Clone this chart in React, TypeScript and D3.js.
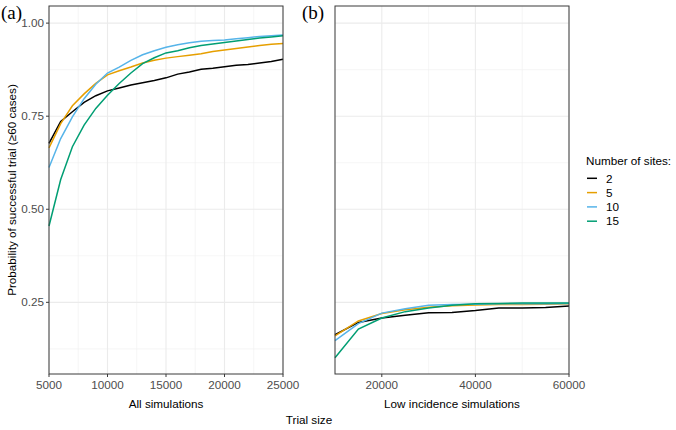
import React from "react";
import * as d3 from "d3";

const W = 676;
const H = 430;

const sites = ["2", "5", "10", "15"];
const colors = ["#000000", "#E69F00", "#56B4E9", "#009E73"];

const sizesA = [5000, 6000, 7000, 8000, 9000, 10000, 11000, 12000, 13000, 14000, 15000, 16000, 17000, 18000, 19000, 20000, 21000, 22000, 23000, 24000, 25000];
const a2 = [0.677, 0.736, 0.762, 0.787, 0.805, 0.818, 0.826, 0.834, 0.840, 0.846, 0.853, 0.863, 0.869, 0.876, 0.879, 0.883, 0.887, 0.889, 0.893, 0.897, 0.903];
const a5 = [0.665, 0.73, 0.778, 0.81, 0.838, 0.861, 0.872, 0.882, 0.893, 0.900, 0.906, 0.910, 0.914, 0.918, 0.924, 0.928, 0.932, 0.936, 0.940, 0.943, 0.945];
const a10 = [0.612, 0.69, 0.748, 0.797, 0.836, 0.866, 0.882, 0.900, 0.915, 0.926, 0.935, 0.942, 0.947, 0.951, 0.953, 0.955, 0.958, 0.961, 0.964, 0.966, 0.968];
const a15 = [0.455, 0.58, 0.668, 0.726, 0.771, 0.806, 0.838, 0.866, 0.891, 0.907, 0.920, 0.926, 0.934, 0.940, 0.944, 0.948, 0.952, 0.956, 0.960, 0.963, 0.966];

const sizesB = [10000, 15000, 20000, 25000, 30000, 35000, 40000, 45000, 50000, 55000, 60000];
const b2 = [0.163, 0.196, 0.208, 0.215, 0.222, 0.223, 0.228, 0.235, 0.235, 0.236, 0.240];
const b5 = [0.160, 0.200, 0.220, 0.230, 0.237, 0.241, 0.243, 0.244, 0.244, 0.245, 0.246];
const b10 = [0.147, 0.193, 0.221, 0.233, 0.242, 0.244, 0.245, 0.246, 0.246, 0.246, 0.247];
const b15 = [0.101, 0.178, 0.208, 0.225, 0.235, 0.242, 0.246, 0.247, 0.248, 0.248, 0.248];

const yMajor = [0.25, 0.5, 0.75, 1.0];
const yMinor = [0.125, 0.375, 0.625, 0.875];
const xMajorA = [5000, 10000, 15000, 20000, 25000];
const xMinorA = [7500, 12500, 17500, 22500];
const xMajorB = [20000, 40000, 60000];
const xMinorB = [10000, 30000, 50000];

const FONT = "'Liberation Sans', Arial, sans-serif";

const top = 6;
const bottom = 374;
const y = d3.scaleLinear().domain([0.0575, 1.046]).range([bottom, top]);

function Panel({ left, right, xDomain, xs, series, major, minor, showY, title, tag, fmt }: any) {
  const x = d3.scaleLinear().domain(xDomain).range([left, right]);
  const line = (vals: number[]) =>
    d3.line<number>().x((_, i) => x(xs[i])).y((d) => y(d))(vals) as string;
  return (
    <g>
      {minor.map((v: number) => (
        <line key={"xm" + v} x1={x(v)} x2={x(v)} y1={top} y2={bottom} stroke="#F0F0F0" strokeWidth={0.6} />
      ))}
      {yMinor.map((v) => (
        <line key={"ym" + v} x1={left} x2={right} y1={y(v)} y2={y(v)} stroke="#F0F0F0" strokeWidth={0.6} />
      ))}
      {major.map((v: number) => (
        <line key={"xM" + v} x1={x(v)} x2={x(v)} y1={top} y2={bottom} stroke="#EBEBEB" strokeWidth={1.1} />
      ))}
      {yMajor.map((v) => (
        <line key={"yM" + v} x1={left} x2={right} y1={y(v)} y2={y(v)} stroke="#EBEBEB" strokeWidth={1.1} />
      ))}
      {series.map((vals: number[], i: number) => (
        <path key={i} d={line(vals)} fill="none" stroke={colors[i]} strokeWidth={1.5} />
      ))}
      <rect x={left} y={top} width={right - left} height={bottom - top} fill="none" stroke="#3A3A3A" strokeWidth={1} />
      {major.map((v: number) => (
        <g key={"xt" + v}>
          <line x1={x(v)} x2={x(v)} y1={bottom} y2={bottom + 3} stroke="#3A3A3A" strokeWidth={1} />
          <text x={x(v)} y={bottom + 15} textAnchor="middle" fontSize={11.7} fill="#4D4D4D" fontFamily={FONT}>
            {fmt(v)}
          </text>
        </g>
      ))}
      {showY &&
        yMajor.map((v) => (
          <g key={"yt" + v}>
            <line x1={left - 3} x2={left} y1={y(v)} y2={y(v)} stroke="#3A3A3A" strokeWidth={1} />
            <text x={left - 5} y={y(v) + 4} textAnchor="end" fontSize={11.7} fill="#4D4D4D" fontFamily={FONT}>
              {d3.format(".2f")(v)}
            </text>
          </g>
        ))}
      <text x={(left + right) / 2} y={408} textAnchor="middle" fontSize={11.7} fill="#000" fontFamily={FONT}>
        {title}
      </text>
      <text x={tag.x} y={18.5} fontSize={19} fontFamily="'Liberation Serif', 'Times New Roman', serif" fill="#000">
        {tag.t}
      </text>
    </g>
  );
}

export default function App() {
  const fmt = (v: number) => String(v);
  return (
    <svg width={W} height={H} style={{ position: "absolute", left: 0, top: 0, background: "#fff" }}>
      <rect x={0} y={0} width={W} height={H} fill="#fff" />
      <Panel
        left={49}
        right={283}
        xDomain={[5000, 25000]}
        xs={sizesA}
        series={[a2, a5, a10, a15]}
        major={xMajorA}
        minor={xMinorA}
        showY={true}
        title="All simulations"
        tag={{ x: 1, t: "(a)" }}
        fmt={fmt}
      />
      <Panel
        left={335}
        right={569}
        xDomain={[10000, 60000]}
        xs={sizesB}
        series={[b2, b5, b10, b15]}
        major={xMajorB}
        minor={xMinorB}
        showY={false}
        title="Low incidence simulations"
        tag={{ x: 302, t: "(b)" }}
        fmt={fmt}
      />
      <text
        transform={`translate(16,${(top + bottom) / 2}) rotate(-90)`}
        textAnchor="middle"
        fontSize={11.7}
        fontFamily={FONT}
        fill="#000"
      >
        Probability of successful trial (≥60 cases)
      </text>
      <text x={309} y={424} textAnchor="middle" fontSize={11.7} fontFamily={FONT} fill="#000">
        Trial size
      </text>
      <text x={586} y={165} fontSize={11.7} fontFamily={FONT} fill="#000">
        Number of sites:
      </text>
      {sites.map((s, i) => (
        <g key={s}>
          <line x1={587} x2={597} y1={178.3 + i * 14.3} y2={178.3 + i * 14.3} stroke={colors[i]} strokeWidth={1.5} />
          <text x={606} y={182.5 + i * 14.3} fontSize={11.7} fontFamily={FONT} fill="#000">
            {s}
          </text>
        </g>
      ))}
    </svg>
  );
}
